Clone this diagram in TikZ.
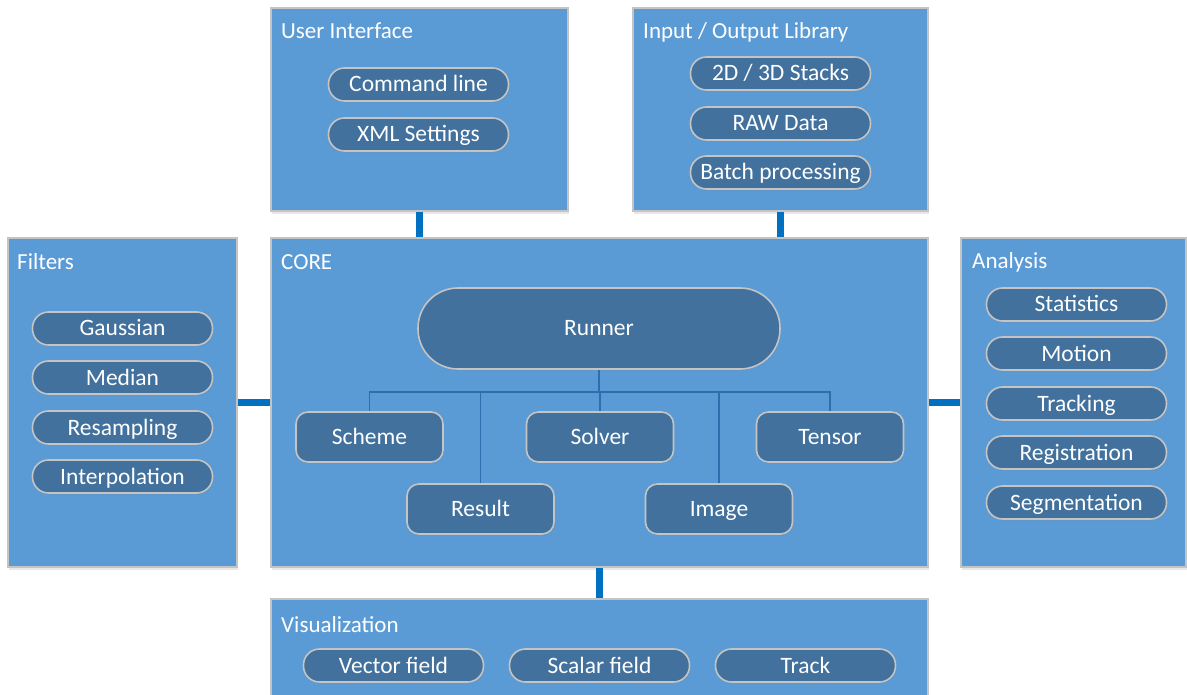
\documentclass[tikz,border=0pt]{standalone}
\usepackage{fontspec}
\setmainfont{Carlito}
\usetikzlibrary{shadows}

\definecolor{boxblue}{HTML}{5B9BD5}
\definecolor{pillblue}{HTML}{41719C}
\definecolor{edgegray}{HTML}{C4C4C4}
\definecolor{linkblue}{HTML}{0070C0}
\definecolor{treeblue}{HTML}{2E6DAE}

\tikzset{
	module/.style={draw=edgegray, line width=1.2pt, fill=boxblue, inner sep=0pt,
		drop shadow={opacity=0.18, shadow xshift=1pt, shadow yshift=-3pt}},
	pill/.style={draw=edgegray, line width=1.6pt, fill=pillblue, text=white,
		rounded corners=16pt, minimum width=180pt, minimum height=33pt, inner sep=0pt,
		font=\fontsize{23.5}{26}\selectfont, text height=15pt, text depth=0pt,
		drop shadow={opacity=0.15, shadow xshift=1pt, shadow yshift=-2pt}},
	part/.style={pill, rounded corners=12pt, minimum width=147pt, minimum height=50pt},
	title/.style={anchor=west, text=white, inner sep=0pt, font=\fontsize{23}{26}\selectfont},
	link/.style={draw=linkblue, line width=7pt},
	branch/.style={draw=treeblue, line width=1.5pt}
}

\begin{document}
\begin{tikzpicture}[x=1pt, y=-1pt]
	\useasboundingbox (0, 0) rectangle (1187, 695);
	\clip (0, 0) rectangle (1187, 695);

	%%the modules
	\node[module, minimum width=297pt, minimum height=203pt] (ui) at (419.5, 109.5){};
	\node[title] at (281, 31){User Interface};

	\node[module, minimum width=295pt, minimum height=203pt] (io) at (780.5, 109.5){};
	\node[title] at (643, 32){Input / Output Library};

	\node[module, minimum width=229pt, minimum height=329pt] (filters) at (122.5, 402.5){};
	\node[title] at (17, 262){Filters};

	\node[module, minimum width=657pt, minimum height=329pt] (core) at (599.5, 402.5){};
	\node[title] at (281, 262){CORE};

	\node[module, minimum width=225pt, minimum height=329pt] (analysis) at (1073.5, 402.5){};
	\node[title] at (972, 262){Analysis};

	\node[module, minimum width=657pt, minimum height=120pt] (vis) at (599.5, 659){};
	\node[title] at (281, 625){Visualization};

	%%links between the modules
	\draw[link](ui.south) to (ui.south |- core.north);
	\draw[link](io.south) to (io.south |- core.north);
	\draw[link](filters.east) to (filters.east -| core.west);
	\draw[link](core.east) to (core.east -| analysis.west);
	\draw[link](core.south) to (core.south |- vis.north);

	%%user interface
	\node[pill] (cmd) at (418.5, 84.5){Command line};
	\node[pill] (xml) at (418.5, 134.5){XML Settings};

	%%input / output
	\node[pill] (stacks) at (780.5, 73.5){2D / 3D Stacks};
	\node[pill] (raw) at (780.5, 123.5){RAW Data};
	\node[pill] (batch) at (780.5, 172.5){Batch processing};

	%%filters
	\node[pill] (gauss) at (122.5, 328.5){Gaussian};
	\node[pill] (median) at (122.5, 377.5){Median};
	\node[pill] (resamp) at (122.5, 427.5){Resampling};
	\node[pill] (interp) at (122.5, 476.5){Interpolation};

	%%analysis
	\node[pill] (stats) at (1076.5, 304.5){Statistics};
	\node[pill] (motion) at (1076.5, 353.5){Motion};
	\node[pill] (track) at (1076.5, 403.5){Tracking};
	\node[pill] (regis) at (1076.5, 452.5){Registration};
	\node[pill] (segm) at (1076.5, 502.5){Segmentation};

	%%visualization
	\node[pill] (vector) at (393.5, 665.5){Vector field};
	\node[pill] (scalar) at (599.5, 665.5){Scalar field};
	\node[pill] (trk) at (805.5, 665.5){Track};

	%%core
	\node[pill, rounded corners=40pt, minimum width=362pt, minimum height=81pt] (runner) at (599, 328.5){Runner};

	\node[part] (scheme) at (369.5, 437){Scheme};
	\node[part] (solver) at (600, 437){Solver};
	\node[part] (tensor) at (830, 437){Tensor};
	\node[part] (result) at (480.5, 509){Result};
	\node[part] (image) at (719, 509){Image};

	%%the runner's tree
	\coordinate (bus) at (0, 392);
	\draw[branch](scheme.north) to (scheme.north |- bus) to (tensor.north |- bus) to (tensor.north);
	\draw[branch](runner.south) to (runner.south |- bus);
	\draw[branch](solver.north) to (solver.north |- bus);
	\draw[branch](result.north) to (result.north |- bus);
	\draw[branch](image.north) to (image.north |- bus);
\end{tikzpicture}
\end{document}
